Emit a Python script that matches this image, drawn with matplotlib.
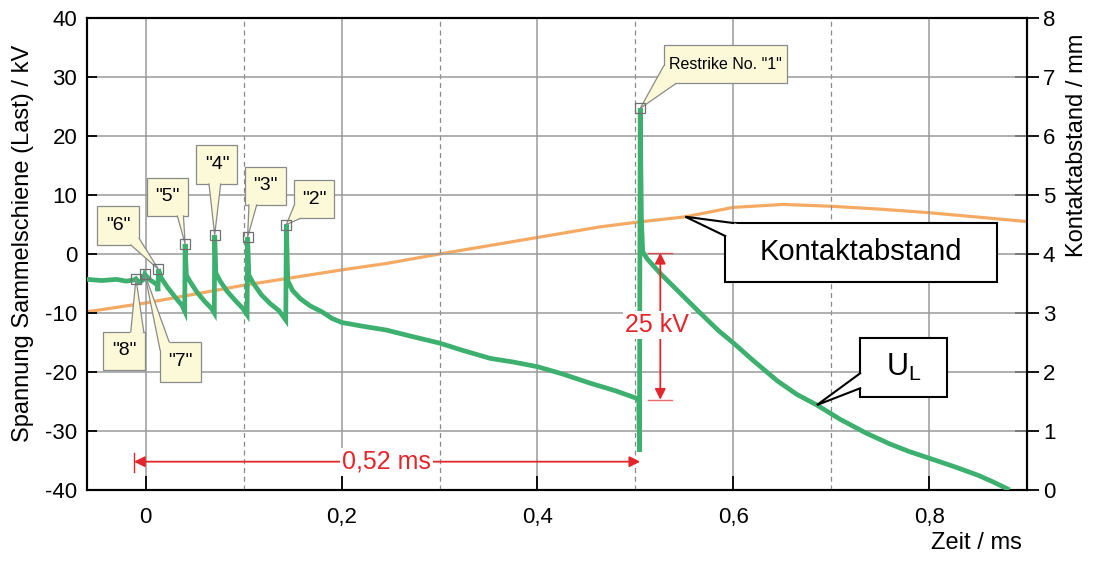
import matplotlib
matplotlib.use("Agg")
import matplotlib.pyplot as plt
from matplotlib.patches import Rectangle, Polygon
from matplotlib.ticker import FixedLocator

plt.rcParams['font.family'] = ['Liberation Sans', 'DejaVu Sans']
plt.rcParams['mathtext.fontset'] = 'custom'
plt.rcParams['mathtext.rm'] = 'Liberation Sans'
plt.rcParams['axes.unicode_minus'] = False

# ---------------- data ----------------
t_green = [-0.060, -0.045, -0.030, -0.020, -0.012, -0.010, -0.007, -0.003, -0.001, 0.003,
           0.008, 0.0115, 0.0125, 0.013, 0.016, 0.022, 0.030, 0.037, 0.0398, 0.0402,
           0.0415, 0.045, 0.052, 0.060, 0.067, 0.0700, 0.0704, 0.0716, 0.076, 0.083,
           0.091, 0.099, 0.1035, 0.1040, 0.1053, 0.110, 0.118, 0.127, 0.136, 0.1430,
           0.1436, 0.1450, 0.150, 0.158, 0.168, 0.180, 0.190, 0.200, 0.220, 0.246,
           0.270, 0.300, 0.325, 0.352, 0.375, 0.400, 0.425, 0.454, 0.480, 0.502,
           0.5035, 0.5042, 0.5050, 0.5062, 0.5075, 0.512, 0.5255, 0.545, 0.565, 0.585,
           0.6003, 0.620, 0.645, 0.665, 0.6854, 0.709, 0.735, 0.760, 0.780, 0.800,
           0.825, 0.850, 0.865, 0.880]
u_green = [-4.3, -4.5, -4.3, -4.6, -4.4, -4.2, -4.8, -4.4, -3.4, -4.2,
           -4.8, -5.2, -6.3, -2.6, -4.1, -5.6, -7.3, -8.7, -9.7, 1.7,
           -3.6, -4.6, -6.4, -8.0, -9.2, -10.0, 3.2, -3.2, -4.6, -6.3,
           -7.8, -9.2, -10.3, 2.8, -3.6, -5.0, -6.9, -8.4, -9.6, -11.2,
           5.0, -4.5, -6.2, -7.6, -8.8, -9.8, -10.9, -11.6, -12.2, -12.9,
           -13.9, -15.1, -16.4, -17.7, -18.3, -19.1, -20.3, -21.9, -23.2, -24.5,
           -24.8, -33.5, 24.7, 6.0, 0.4, -0.8, -3.3, -6.5, -9.8, -13.0,
           -15.1, -18.0, -21.5, -23.8, -25.6, -28.0, -30.3, -32.2, -33.5, -34.6,
           -36.0, -37.5, -38.6, -39.8]

t_gap = [-0.06, 0.0, 0.1, 0.2, 0.246, 0.3, 0.4, 0.464, 0.502, 0.551,
         0.6, 0.651, 0.699, 0.75, 0.8, 0.9]
gap_mm = [3.02, 3.17, 3.47, 3.73, 3.84, 4.0, 4.28, 4.46, 4.54, 4.63,
          4.79, 4.84, 4.81, 4.76, 4.70, 4.55]

restrike_t = [0.505, 0.1436, 0.1040, 0.0704, 0.0402, 0.013, -0.001, -0.010]
restrike_u = [24.7, 5.0, 2.8, 3.2, 1.7, -2.6, -3.4, -4.2]
restrike_labels = ['Restrike No. "1"', '"2"', '"3"', '"4"', '"5"', '"6"', '"7"', '"8"']

x_ticks = [0, 0.2, 0.4, 0.6, 0.8]
x_ticklabels = ['0', '0,2', '0,4', '0,6', '0,8']
x_minor = [0.1, 0.3, 0.5, 0.7]
y_ticks = [-40, -30, -20, -10, 0, 10, 20, 30, 40]
y2_ticks = [0, 1, 2, 3, 4, 5, 6, 7, 8]

# ---------------- layout (box: x0, x1, y0, y1 ; base points) ----------------
restrike_boxes = [
    ((0.5289, 0.6551, 28.93, 35.42), ((0.5289, 31.86), (0.5418, 28.93))),
    ((0.1513, 0.1921, 6.05, 12.54), ((0.1513, 8.14), (0.1582, 6.05))),
    ((0.1013, 0.1429, 8.31, 14.80), ((0.1054, 8.31), (0.1133, 8.31))),
    ((0.0517, 0.0936, 11.86, 18.47), ((0.0646, 11.86), (0.0765, 11.86))),
    ((0.0017, 0.0432, 6.44, 12.93), ((0.0323, 6.44), (0.0385, 6.44))),
    ((-0.0493, -0.0068, 1.53, 8.14), ((-0.0153, 1.53), (-0.0068, 2.66))),
    ((0.0146, 0.0561, -21.64, -14.86), ((0.0238, -14.86), (0.0146, -16.27))),
    ((-0.0432, -0.0010, -19.66, -13.17), ((-0.0153, -13.17), (-0.0020, -13.17))),
]

GREEN = '#3DAF6E'
ORANGE = '#F5AA64'
RED = '#E3262B'
NOTE_FC = '#FBF9D8'
NOTE_EC = '#8A8A8A'

fig = plt.figure(figsize=(10.95, 5.62), dpi=100)
ax = fig.add_axes([87 / 1095, 1 - 490 / 562, (1027 - 87) / 1095, (490 - 18) / 562])
ax2 = ax.twinx()
ax.set_zorder(2)
ax.patch.set_visible(False)
ax2.set_zorder(1)

ax.set_xlim(-0.06, 0.9)
ax.set_ylim(-40, 40)
ax2.set_ylim(0, 8)

ax.set_xticks(x_ticks)
ax.set_xticklabels(x_ticklabels)
ax.xaxis.set_minor_locator(FixedLocator(x_minor))
ax.set_yticks(y_ticks)
ax2.set_yticks(y2_ticks)

ax.grid(which='major', color='#9a9a9a', lw=1.1)
ax.grid(which='minor', axis='x', color='#8a8a8a', lw=0.9, ls=(0, (4, 3)))
ax.set_axisbelow(True)

ax.tick_params(axis='x', which='major', direction='in', length=10, width=1.3,
               labelsize=16, pad=12, top=False)
ax.tick_params(axis='x', which='minor', length=0)
ax.tick_params(axis='y', direction='in', length=7, width=1.3, labelsize=16, pad=7,
               right=False)
ax2.tick_params(axis='y', direction='inout', length=17, width=1.3, labelsize=16, pad=3)
for a in (ax, ax2):
    for s in a.spines.values():
        s.set_linewidth(1.5)
        s.set_color('black')

# orange: contact distance
ax2.plot(t_gap, gap_mm, color=ORANGE, lw=2.3, solid_capstyle='butt')
# green: voltage
ax.plot(t_green, u_green, color=GREEN, lw=3.4, zorder=3, solid_joinstyle='miter')


def callout(box, base, tip, fc, ec, lw, z, text, fs, color='black'):
    x0, x1, y0, y1 = box
    ax.add_patch(Rectangle((x0, y0), x1 - x0, y1 - y0, fc=fc, ec=ec, lw=lw, zorder=z,
                           joinstyle='miter'))
    cx, cy = (x0 + x1) / 2, (y0 + y1) / 2
    ax.add_patch(Polygon([base[0], tip, base[1], (cx, cy)], closed=True, fc=fc, ec='none',
                         zorder=z + 0.1))
    ax.plot([base[0][0], tip[0], base[1][0]], [base[0][1], tip[1], base[1][1]],
            color=ec, lw=lw, zorder=z + 0.2, solid_joinstyle='miter')
    ax.text(cx, cy, text, ha='center', va='center', fontsize=fs, color=color,
            zorder=z + 0.3)


for i, (lab, (box, base)) in enumerate(zip(restrike_labels, restrike_boxes)):
    fs = 11.5 if i == 0 else 14
    callout(box, base, (restrike_t[i], restrike_u[i]), NOTE_FC, NOTE_EC, 0.9,
            5 + i * 0.5, lab, fs)

ax.plot(restrike_t, restrike_u, ls='none', marker='s', ms=6.5, mfc='none',
        mec='#707070', mew=0.9, zorder=10)

# big white callouts
callout((0.5918, 0.8691, -4.69, 5.25), ((0.6000, 5.25), (0.5918, 3.05)),
        (0.551, 6.32), 'white', 'black', 1.5, 9, 'Kontaktabstand', 21)
callout((0.7296, 0.8181, -24.19, -14.24), ((0.7296, -20.22), (0.7296, -22.76)),
        (0.6854, -25.6), 'white', 'black', 1.5, 9, r'U$_\mathrm{L}$', 22)

# 25 kV dimension
ax.plot([0.513, 0.537], [0.2, 0.2], color=RED, lw=1.0, alpha=0.7, zorder=6)
ax.plot([0.513, 0.537], [-24.7, -24.7], color=RED, lw=1.0, alpha=0.7, zorder=6)
ax.annotate('', xy=(0.5255, 0.2), xytext=(0.5255, -24.7),
            arrowprops=dict(arrowstyle='<|-|>', color=RED, lw=1.3, mutation_scale=16,
                            shrinkA=0, shrinkB=0), zorder=6)
ax.text(0.5224, -12.0, '25 kV', color=RED, fontsize=18, ha='center', va='center',
        zorder=7, bbox=dict(fc='white', ec='none', pad=1.5))

# 0,52 ms dimension
ax.plot([-0.012, -0.012], [-33.8, -37.0], color=RED, lw=1.0, zorder=6)
ax.annotate('', xy=(-0.012, -35.2), xytext=(0.505, -35.2),
            arrowprops=dict(arrowstyle='<|-|>', color=RED, lw=1.3, mutation_scale=16,
                            shrinkA=0, shrinkB=0), zorder=6)
ax.text(0.246, -35.2, '0,52 ms', color=RED, fontsize=18, ha='center', va='center',
        zorder=7, bbox=dict(fc='white', ec='none', pad=1.5))

# axis labels
fig.text(23 / 1095, 1 - 243 / 562, 'Spannung Sammelschiene (Last) / kV', rotation=90,
         ha='center', va='center', fontsize=17)
fig.text(1077 / 1095, 1 - 145 / 562, 'Kontaktabstand / mm', rotation=90,
         ha='center', va='center', fontsize=17)
fig.text(1022 / 1095, 1 - 543 / 562, 'Zeit / ms', ha='right', va='center', fontsize=17)

fig.savefig('out.png', dpi=100, facecolor='white')
